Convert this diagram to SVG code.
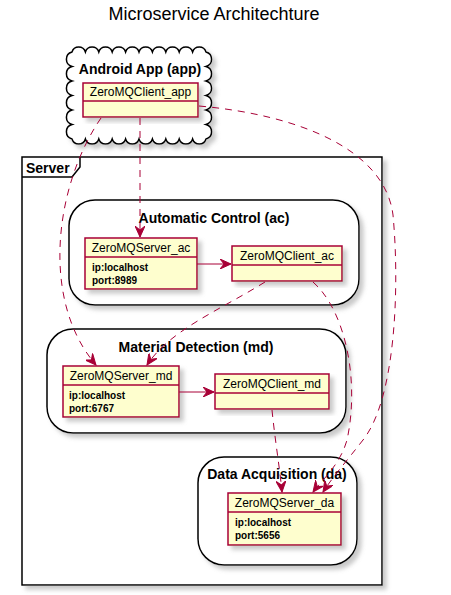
<svg xmlns="http://www.w3.org/2000/svg" width="451" height="595" viewBox="0 0 451 595">
<style>
.cls{fill:#FEFECE;stroke:#A80036;stroke-width:1.5;filter:url(#sh)}
.sep{stroke:#A80036;stroke-width:1.5}
.grp{fill:#FFFFFF;stroke:#000;stroke-width:1.5;filter:url(#sh)}
.nm{font-family:"Liberation Sans",Arial,sans-serif;font-size:12px;fill:#000;text-anchor:middle}
.at{font-family:"Liberation Sans",Arial,sans-serif;font-size:10px;font-weight:bold;fill:#000}
.gl{font-family:"Liberation Sans",Arial,sans-serif;font-size:14px;font-weight:bold;fill:#000;text-anchor:middle}
.ttl{font-family:"Liberation Sans",Arial,sans-serif;font-size:18px;fill:#000;text-anchor:middle}
.dash{fill:none;stroke:#A80036;stroke-width:1;stroke-dasharray:7,6;marker-end:url(#arr)}
.sol{fill:none;stroke:#A80036;stroke-width:1;marker-end:url(#arr)}
</style>
<defs>
<filter id="sh" x="-10%" y="-10%" width="130%" height="130%">
<feGaussianBlur in="SourceAlpha" stdDeviation="2"/>
<feOffset dx="4" dy="4" result="b"/>
<feColorMatrix in="b" type="matrix" values="0 0 0 0 0.3  0 0 0 0 0.3  0 0 0 0 0.3  0 0 0 0.5 0" result="c"/>
<feMerge><feMergeNode in="c"/><feMergeNode in="SourceGraphic"/></feMerge>
</filter>
<marker id="arr" viewBox="0 0 12 10" refX="11" refY="5" markerWidth="12" markerHeight="10" markerUnits="userSpaceOnUse" orient="auto">
<path d="M0,0 L11,5 L0,10 L4,5 Z" fill="#A80036" stroke="#A80036" stroke-width="1"/>
</marker>
</defs>
<rect width="451" height="595" fill="#FFFFFF"/>
<text class="ttl" x="214" y="20">Microservice Architechture</text>

<g id="android-app">
<path class="grp" d="M72,52 a7,7 0 0,1 13.4,0 a7,7 0 0,1 13.4,0 a7,7 0 0,1 13.4,0 a7,7 0 0,1 13.4,0 a7,7 0 0,1 13.4,0 a7,7 0 0,1 13.4,0 a7,7 0 0,1 13.4,0 a7,7 0 0,1 13.4,0 a7,7 0 0,1 13.4,0 a7,7 0 0,1 13.4,0 a7.5,7.5 0 0,1 0,14.5 a7.5,7.5 0 0,1 0,14.5 a7.5,7.5 0 0,1 0,14.5 a7.5,7.5 0 0,1 0,14.5 a7.5,7.5 0 0,1 0,14.5 a7.5,7.5 0 0,1 0,14.5 a7,7 0 0,1 -13.4,0 a7,7 0 0,1 -13.4,0 a7,7 0 0,1 -13.4,0 a7,7 0 0,1 -13.4,0 a7,7 0 0,1 -13.4,0 a7,7 0 0,1 -13.4,0 a7,7 0 0,1 -13.4,0 a7,7 0 0,1 -13.4,0 a7,7 0 0,1 -13.4,0 a7,7 0 0,1 -13.4,0 a7.5,7.5 0 0,1 0,-14.5 a7.5,7.5 0 0,1 0,-14.5 a7.5,7.5 0 0,1 0,-14.5 a7.5,7.5 0 0,1 0,-14.5 a7.5,7.5 0 0,1 0,-14.5 a7.5,7.5 0 0,1 0,-14.5 Z"/>
<text class="gl" x="140" y="74">Android App (app)</text>
</g>

<g id="server">
<rect class="grp" x="22" y="157" width="360" height="428"/>
<path d="M22,177 L72,177 L80,167 L80,157" fill="none" stroke="#000" stroke-width="1.5"/>
<text x="26" y="173" font-family="Liberation Sans,Arial,sans-serif" font-size="14" font-weight="bold">Server</text>
</g>

<g id="automatic-control">
<rect class="grp" x="69" y="200" width="290" height="105" rx="26" ry="26"/>
<text class="gl" x="214" y="223">Automatic Control (ac)</text>
</g>

<g id="material-detection">
<rect class="grp" x="47" y="329" width="299" height="104" rx="26" ry="26"/>
<text class="gl" x="196" y="352">Material Detection (md)</text>
</g>

<g id="data-acquisition">
<rect class="grp" x="198" y="457" width="159" height="108" rx="26" ry="26"/>
<text class="gl" x="277" y="479">Data Acquisition (da)</text>
</g>

<g id="ZeroMQClient_app">
<rect class="cls" x="83" y="83" width="115" height="34"/>
<line class="sep" x1="83" y1="101" x2="198" y2="101"/>
<text class="nm" x="140.5" y="96">ZeroMQClient_app</text>
</g>

<g id="ZeroMQServer_ac">
<rect class="cls" x="85" y="238" width="112" height="51"/>
<line class="sep" x1="85" y1="257" x2="197" y2="257"/>
<text class="nm" x="141" y="252">ZeroMQServer_ac</text>
<text class="at" x="92" y="271">ip:localhost</text>
<text class="at" x="92" y="284">port:8989</text>
</g>

<g id="ZeroMQClient_ac">
<rect class="cls" x="232" y="246" width="110" height="35"/>
<line class="sep" x1="232" y1="265" x2="342" y2="265"/>
<text class="nm" x="287" y="260">ZeroMQClient_ac</text>
</g>

<g id="ZeroMQServer_md">
<rect class="cls" x="63" y="366" width="116" height="51"/>
<line class="sep" x1="63" y1="385" x2="179" y2="385"/>
<text class="nm" x="121" y="380">ZeroMQServer_md</text>
<text class="at" x="69" y="399">ip:localhost</text>
<text class="at" x="69" y="412">port:6767</text>
</g>

<g id="ZeroMQClient_md">
<rect class="cls" x="215" y="374" width="114" height="35"/>
<line class="sep" x1="215" y1="393" x2="329" y2="393"/>
<text class="nm" x="272" y="388">ZeroMQClient_md</text>
</g>

<g id="ZeroMQServer_da">
<rect class="cls" x="228" y="493" width="113" height="52"/>
<line class="sep" x1="228" y1="512" x2="341" y2="512"/>
<text class="nm" x="284.5" y="507">ZeroMQServer_da</text>
<text class="at" x="235" y="526">ip:localhost</text>
<text class="at" x="235" y="539">port:5656</text>
</g>

<g id="connectors">
<path class="dash" d="M140,118 L140,237"/>
<path class="dash" d="M101,118 C55,185 40,300 96,365"/>
<path class="dash" d="M265,282 C220,310 170,330 147,365"/>
<path class="dash" d="M313,282 C345,310 360,380 347,440 C340,465 322,480 313,492"/>
<path class="dash" d="M199,106 C300,115 385,150 393,215 C400,290 395,400 363,440 C345,463 332,478 323,492"/>
<path class="dash" d="M272,410 C275,440 280,470 282,492"/>
<path class="sol" d="M197,264 L231,264"/>
<path class="sol" d="M179,392 L214,392"/>
</g>
</svg>
